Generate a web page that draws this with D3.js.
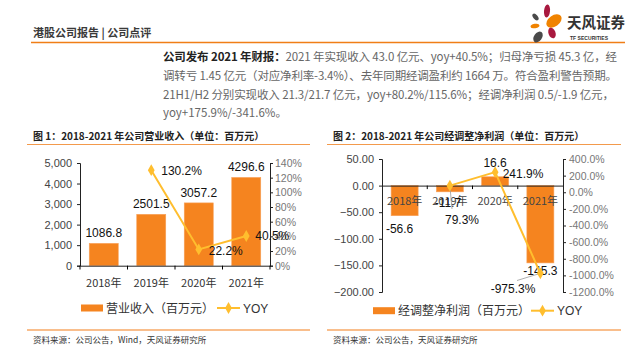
<!DOCTYPE html>
<html><head><meta charset="utf-8">
<script src="https://cdn.jsdelivr.net/npm/d3@7"></script>
<style>
html,body{margin:0;padding:0;background:#fff;}
svg{display:block;font-family:"Liberation Sans","Noto Sans CJK SC",sans-serif;}
.cjk{font-family:"Noto Sans CJK SC","Liberation Sans",sans-serif;}
</style></head>
<body>
<svg id="c" width="640" height="352"></svg>
<script>
// ---- data ----
const years = ["2018年", "2019年", "2020年", "2021年"];
const revenue = [1086.8, 2501.5, 3057.2, 4296.6];
const revenueYoy = [null, 130.2, 22.2, 40.5];
const adjProfit = [-56.6, -11.7, 16.6, -145.3];
const profitYoy = [null, 79.3, 241.9, -975.3];
const revTicks = [0, 1000, 2000, 3000, 4000, 5000];
const revYoyTicks = [0, 20, 40, 60, 80, 100, 120, 140];
const profitTicks = [-200, -150, -100, -50, 0, 50];
const profitYoyTicks = [-1200, -1000, -800, -600, -400, -200, 0, 200, 400];
const paraLines = [
  ["公司发布 2021 年财报：", "2021 年实现收入 43.0 亿元、yoy+40.5%；归母净亏损 45.3 亿，经"],
  ["", "调转亏 1.45 亿元（对应净利率-3.4%）、去年同期经调盈利约 1664 万。符合盈利警告预期。"],
  ["", "21H1/H2 分别实现收入 21.3/21.7 亿元，yoy+80.2%/115.6%；经调净利润 0.5/-1.9 亿元，"],
  ["", "yoy+175.9%/-341.6%。"]
];

const ORANGE = "#F5841F", GOLD = "#FFBE2E", TXT = "#333";
const svg = d3.select("#c");

// ---- header ----
svg.append("text").attr("class","cjk").attr("x",33).attr("y",36.5)
  .attr("font-size",11).attr("font-weight","bold").attr("fill","#3a3a3a")
  .text("港股公司报告 | 公司点评");
svg.append("line").attr("x1",31).attr("x2",625).attr("y1",42.5).attr("y2",42.5)
  .attr("stroke","#F07E16").attr("stroke-width",1.6);

// logo
const logo = svg.append("g");
const petals = [
  {cx:547,cy:11,rx:3,ry:6.5,rot:5,c:"#A8193F"},
  {cx:535.5,cy:17,rx:2.2,ry:4,rot:-40,c:"#4a4a4a"},
  {cx:554,cy:21,rx:8.5,ry:5.5,rot:-35,c:"#F08300"},
  {cx:535,cy:26,rx:4.5,ry:2.2,rot:-10,c:"#F08300"},
  {cx:538,cy:37,rx:4,ry:6,rot:35,c:"#4a4a4a"},
  {cx:552,cy:33,rx:3.5,ry:5.5,rot:-20,c:"#A8193F"}
];
logo.selectAll("ellipse").data(petals).join("ellipse")
  .attr("cx",d=>d.cx).attr("cy",d=>d.cy).attr("rx",d=>d.rx).attr("ry",d=>d.ry)
  .attr("transform",d=>`rotate(${d.rot},${d.cx},${d.cy})`).attr("fill",d=>d.c);
svg.append("text").attr("class","cjk").attr("x",567).attr("y",28)
  .attr("font-size",14.5).attr("font-weight","bold").attr("fill","#333").text("天风证券");
svg.append("text").attr("x",570).attr("y",39.5).attr("font-size",5).attr("font-weight","bold")
  .attr("fill","#333").attr("textLength",38).text("TF SECURITIES");

// ---- paragraph ----
const paraY = [61, 80, 99, 117];
const paraW = [454, 454, 451, null];
paraLines.forEach((ln,i)=>{
  const t = svg.append("text").attr("class","cjk").attr("x",163).attr("y",paraY[i])
    .attr("font-size",11.5).attr("fill","#666");
  if (paraW[i]) t.attr("textLength",paraW[i]).attr("lengthAdjust","spacing");
  if (ln[0]) t.append("tspan").attr("font-weight","bold").attr("fill","#222").text(ln[0]);
  t.append("tspan").text(ln[1]);
});

// ---- panel frame helper ----
function frame(x0, x1, title, source){
  svg.append("text").attr("class","cjk").attr("x",x0+6).attr("y",140)
    .attr("font-size",10).attr("font-weight","bold").attr("fill","#222").text(title);
  svg.append("line").attr("x1",x0).attr("x2",x1).attr("y1",144.5).attr("y2",144.5)
    .attr("stroke","#F39A4C").attr("stroke-width",1);
  svg.append("line").attr("x1",x0).attr("x2",x1).attr("y1",330).attr("y2",330)
    .attr("stroke","#F7A866").attr("stroke-width",1.5);
  svg.append("text").attr("class","cjk").attr("x",x0+6).attr("y",342.5)
    .attr("font-size",8.5).attr("fill","#333").text(source);
}
frame(27, 310, "图 1：2018-2021 年公司营业收入（单位：百万元）", "资料来源：公司公告，Wind，天风证券研究所");
frame(327, 621, "图 2：2018-2021 年公司经调整净利润（单位：百万元）", "资料来源：公司公告，天风证券研究所");

function diamond(g, x, y){
  g.append("path").attr("d", d3.symbol(d3.symbolDiamond, 40)()).attr("transform",`translate(${x},${y})`)
   .attr("fill",GOLD);
}
function legend(x, y, label, lineX){
  svg.append("rect").attr("x",x).attr("y",y-3.5).attr("width",22).attr("height",7).attr("fill",ORANGE);
  svg.append("text").attr("class","cjk").attr("x",x+25).attr("y",y+4.5).attr("font-size",12).attr("fill",TXT).text(label);
  svg.append("line").attr("x1",lineX).attr("x2",lineX+23).attr("y1",y).attr("y2",y).attr("stroke",GOLD).attr("stroke-width",2);
  diamond(svg, lineX+11.5, y);
  svg.append("text").attr("x",lineX+26).attr("y",y+4.5).attr("font-size",12).attr("fill",TXT).text("YOY");
}

// ---- chart 1 ----
{
  const x = d3.scaleBand().domain(years).range([80,270]).paddingInner(0.39).paddingOuter(0.195);
  const band = d3.scaleBand().domain(years).range([80,270]);
  const y = d3.scaleLinear().domain([0,5000]).range([265.7,163]);
  const y2 = d3.scaleLinear().domain([0,140]).range([265.7,163]);
  const g = svg.append("g");
  g.selectAll("rect.bar").data(years).join("rect").attr("class","bar")
    .attr("x",d=>band(d)+band.bandwidth()/2-14.5).attr("width",29)
    .attr("y",(d,i)=>y(revenue[i])).attr("height",(d,i)=>y(0)-y(revenue[i]))
    .attr("fill",ORANGE).attr("stroke","#F8A15A").attr("stroke-width",0.6);
  // axes
  const ay = g.append("g").attr("transform","translate(80,0)")
    .call(d3.axisLeft(y).tickValues(revTicks).tickSize(3).tickFormat(d3.format(",")));
  ay.selectAll("text").attr("font-size",11).attr("fill","#444").attr("x",-8);
  const ay2 = g.append("g").attr("transform","translate(270,0)")
    .call(d3.axisRight(y2).tickValues(revYoyTicks).tickSize(3).tickFormat(d=>d+"%"));
  ay2.selectAll("text").attr("font-size",10.5).attr("fill","#777").attr("x",5);
  const ax = g.append("g").attr("transform","translate(0,265.7)")
    .call(d3.axisBottom(band).tickSize(0).tickSizeOuter(0));
  ax.selectAll("text").attr("class","cjk").attr("font-size",11).attr("fill","#333").attr("dy",0).attr("y",21.5);
  [80,127.5,175,222.5,270].forEach(v=>g.append("line").attr("x1",v).attr("x2",v).attr("y1",265.7).attr("y2",269.5).attr("stroke","#000"));
  [ay,ay2,ax].forEach(a=>a.selectAll("path,line").attr("stroke","#222").attr("stroke-width",1));
  // bar labels
  g.selectAll("text.val").data(years).join("text").attr("class","val")
    .attr("x",d=>band(d)+band.bandwidth()/2).attr("y",(d,i)=>y(revenue[i])-6)
    .attr("text-anchor","middle").attr("font-size",12).attr("fill","#111")
    .text((d,i)=>revenue[i].toFixed(1));
  // yoy line
  const pts = years.map((d,i)=>[band(d)+band.bandwidth()/2, revenueYoy[i]]).filter(p=>p[1]!==null);
  g.append("path").attr("d", d3.line().x(p=>p[0]).y(p=>y2(p[1]))(pts))
    .attr("fill","none").attr("stroke",GOLD).attr("stroke-width",2);
  pts.forEach(p=>diamond(g,p[0],y2(p[1])));
  const off = {"130.2":[10,4.5,"start"],"22.2":[10,6,"start"],"40.5":[9,4.5,"start"]};
  pts.forEach(p=>{
    const o = off[p[1].toFixed(1)];
    g.append("text").attr("x",p[0]+o[0]).attr("y",y2(p[1])+o[1]).attr("text-anchor",o[2])
     .attr("font-size",12).attr("fill","#111").text(p[1].toFixed(1)+"%");
  });
  legend(81, 308, "营业收入（百万元）", 217);
}

// ---- chart 2 ----
{
  const band = d3.scaleBand().domain(years).range([382,563]);
  const y = d3.scaleLinear().domain([-200,50]).range([292,159]);
  const y2 = d3.scaleLinear().domain([-1200,400]).range([292,159]);
  const g = svg.append("g");
  g.selectAll("rect.bar").data(years).join("rect").attr("class","bar")
    .attr("x",d=>band(d)+band.bandwidth()/2-13.5).attr("width",27)
    .attr("y",(d,i)=>Math.min(y(adjProfit[i]),y(0))).attr("height",(d,i)=>Math.abs(y(0)-y(adjProfit[i])))
    .attr("fill",ORANGE).attr("stroke","#F8A15A").attr("stroke-width",0.6);
  const ay = g.append("g").attr("transform","translate(382,0)")
    .call(d3.axisLeft(y).tickValues(profitTicks).tickSize(3).tickFormat(d3.format(".2f")));
  ay.selectAll("text").attr("font-size",11).attr("fill","#444").attr("x",-8);
  const ay2 = g.append("g").attr("transform","translate(563,0)")
    .call(d3.axisRight(y2).tickValues(profitYoyTicks).tickSize(3).tickFormat(d=>d.toFixed(1)+"%"));
  ay2.selectAll("text").attr("font-size",10.5).attr("fill","#777").attr("x",6);
  const ax = g.append("g").attr("transform",`translate(0,${y(0)})`)
    .call(d3.axisBottom(band).tickSize(0).tickSizeOuter(0));
  ax.selectAll("text").attr("class","cjk").attr("font-size",11).attr("fill","#444").attr("dy",0).attr("y",19.5);
  band.domain().forEach(d=>{const v=band(d); if(v>382) g.append("line").attr("x1",v).attr("x2",v).attr("y1",y(0)).attr("y2",y(0)+3.5).attr("stroke","#000");});
  [ay,ay2,ax].forEach(a=>a.selectAll("path,line").attr("stroke","#222").attr("stroke-width",1));
  // value labels
  const vOff = [[-5,41],[0,17.5],[0,-16],[0,13]];
  years.forEach((d,i)=>{
    const base = adjProfit[i] < 0 ? y(adjProfit[i]) : y(adjProfit[i]);
    const cx = band(d)+band.bandwidth()/2;
    let yy;
    if (i===0) yy = y(adjProfit[i]) + 17;
    else if (i===1) yy = y(0) + 21.5;
    else if (i===2) yy = y(adjProfit[i]) - 10;
    else yy = y(adjProfit[i]) + 12;
    g.append("text").attr("x",cx+vOff[i][0]+ (i===1?-2:0)).attr("y",yy).attr("text-anchor","middle")
      .attr("font-size",12).attr("fill","#111").text(adjProfit[i].toFixed(1));
  });
  // yoy line
  const pts = years.map((d,i)=>[band(d)+band.bandwidth()/2, profitYoy[i]]).filter(p=>p[1]!==null);
  // leader lines
  g.append("line").attr("x1",pts[0][0]).attr("y1",y2(pts[0][1])).attr("x2",452).attr("y2",209)
    .attr("stroke","#999").attr("stroke-width",0.8);
  g.append("line").attr("x1",pts[2][0]).attr("y1",y2(pts[2][1])).attr("x2",517).attr("y2",280.5)
    .attr("stroke","#999").attr("stroke-width",0.8);
  g.append("path").attr("d", d3.line().x(p=>p[0]).y(p=>y2(p[1]))(pts))
    .attr("fill","none").attr("stroke",GOLD).attr("stroke-width",2);
  pts.forEach(p=>diamond(g,p[0],y2(p[1])));
  const lab = [[462,223.5],[523,177.5],[513,293]];
  pts.forEach((p,i)=>{
    g.append("text").attr("x",lab[i][0]).attr("y",lab[i][1]).attr("text-anchor","middle")
     .attr("font-size",12).attr("fill","#111").text(p[1].toFixed(1)+"%");
  });
  legend(373, 310.7, "经调整净利润（百万元）", 531);
}
</script>
</body></html>
